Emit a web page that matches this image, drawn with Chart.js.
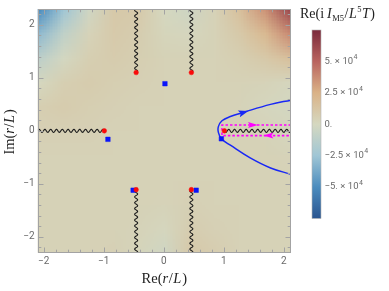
<!DOCTYPE html>
<html><head><meta charset="utf-8">
<script src="https://cdn.jsdelivr.net/npm/chart.js@4.4.1/dist/chart.umd.min.js"></script>
<style>html,body{margin:0;padding:0;background:#fff;}#wrap{width:389px;height:291px;position:relative;}</style>
</head><body><div id="wrap"><canvas id="c" width="389" height="291"></canvas></div>
<script>
// ---------- data ----------
const xRange = [-2.1, 2.12];
const yRange = [-2.3, 2.3];
const xTicks = [-2, -1, 0, 1, 2];
const yTicks = [-2, -1, 0, 1, 2];
const minorStep = 0.2;

// background density (values in units of 1e3)
const heatUnit = 1000;
const heatX = [-2.1, -1.68, -1.26, -0.84, -0.42, 0, 0.42, 0.84, 1.26, 1.68, 2.1];
const heatY = [2.3, 1.84, 1.38, 0.92, 0.46, 0, -0.46, -0.92, -1.38, -1.84, -2.3];
const heatValues = [
  [-50, -25, -3, 10, 9, 0, -4, 4, 16, 35, 62],
  [-30, -10, 3, 9, 7, 2, 1, 4, 10, 20, 38],
  [-12, -1, 6, 8, 6, 4, 4, 4, 6, 10, 16],
  [0, 6, 8, 6, 5, 4, 4, 4, 4, 3, 1],
  [6, 8, 6, 5, 4, 4, 4, 4, 3, 1, -1],
  [5, 5, 5, 4, 4, 4, 4, 4, 4, 3, 1],
  [4, 4, 4, 4, 4, 4, 4, 4, 4, 4, 3],
  [4, 4, 4, 4, 4, 4, 4, 4, 4, 4, 4],
  [4, 4, 4, 4, 4, 3, 5, 4, 4, 4, 4],
  [4, 4, 4, 4, 3, 1, 7, 5, 4, 4, 4],
  [4, 4, 4, 5, 2, -3, 10, 7, 4, 4, 4]
];

// branch points (red) and their cuts
const branchX = [-0.46, 0.46, -0.46, 0.46, -0.99, 1.01];
const branchY = [1.10, 1.10, -1.11, -1.11, 0.0, 0.0];
const cutEndX = [-0.46, 0.46, -0.46, 0.46, -2.1, 2.12];
const cutEndY = [2.3, 2.3, -2.3, -2.3, 0.0, 0.0];

// poles (blue squares)
const poleX = [0.02, -0.93, 0.96, -0.51, 0.54];
const poleY = [0.89, -0.16, -0.15, -1.12, -1.12];

// blue integration curve
const curveX = [2.12, 1.78, 1.44, 1.11, 0.96, 0.91, 0.91, 0.97, 1.11, 1.33, 1.78, 2.12];
const curveY = [-0.82, -0.70, -0.51, -0.27, -0.15, -0.03, 0.08, 0.19, 0.27, 0.35, 0.50, 0.58];
const curveArrowX = [1.41];
const curveArrowY = [0.375];

// magenta keyhole contour
const contourX = [2.12, 0.97, 0.97, 2.12];
const contourY = [0.11, 0.11, -0.09, -0.09];
const contourArrowX = [1.57, 1.66];
const contourArrowY = [0.11, -0.09];
const contourArrowDir = [1, -1];

// colour bar
const cbRange = [-75000, 75000];
const cbTicks = [50000, 25000, 0, -25000, -50000];
const cbMant = ['5.', '2.5', '0.', '\u22122.5', '\u22125.'];
const cbExp = ['4', '4', '', '4', '4'];

// ---------- styling helpers ----------
const cmapStops = [
  [0, [42, 85, 144]], [1/6, [75, 140, 190]], [1/3, [160, 198, 213]],
  [0.5, [213, 216, 192]], [2/3, [218, 178, 135]], [5/6, [185, 100, 95]], [1, [122, 42, 60]]
];
function cmap(v) {
  let f = (v - cbRange[0]) / (cbRange[1] - cbRange[0]);
  f = Math.max(0, Math.min(1, f));
  for (let i = 1; i < cmapStops.length; i++) {
    if (f <= cmapStops[i][0]) {
      const [f0, c0] = cmapStops[i - 1], [f1, c1] = cmapStops[i];
      const t = (f - f0) / (f1 - f0);
      return c0.map((c, k) => Math.round(c + (c1[k] - c) * t));
    }
  }
  return cmapStops[cmapStops.length - 1][1];
}
const minus = v => (v < 0 ? '\u2212' + Math.abs(v) : String(v));

function wavy(ctx, x0, y0, x1, y1) {
  const dx = x1 - x0, dy = y1 - y0, L = Math.hypot(dx, dy);
  const ux = dx / L, uy = dy / L, nx = -uy, ny = ux;
  ctx.beginPath();
  for (let s = 0; s <= L; s += 0.4) {
    const a = 1.5 * Math.sin(2 * Math.PI * s / 5.8);
    const px = x0 + ux * s + nx * a, py = y0 + uy * s + ny * a;
    if (s === 0) ctx.moveTo(px, py); else ctx.lineTo(px, py);
  }
  ctx.stroke();
}
function arrowHead(ctx, x, y, ang, len, wid, color) {
  ctx.save(); ctx.translate(x, y); ctx.rotate(ang);
  ctx.beginPath(); ctx.moveTo(0, 0); ctx.lineTo(-len, -wid / 2); ctx.lineTo(-len * 0.8, 0); ctx.lineTo(-len, wid / 2); ctx.closePath();
  ctx.fillStyle = color; ctx.fill(); ctx.restore();
}
function richWidth(ctx, parts) { let w = 0; for (const p of parts) { ctx.font = p.f; w += ctx.measureText(p.t).width + (p.sp || 0); } return w; }
function drawRich(ctx, parts, x, y) {
  for (const p of parts) { ctx.font = p.f; ctx.fillText(p.t, x, y + (p.dy || 0)); x += ctx.measureText(p.t).width + (p.sp || 0); }
}

const SERIF = '"Liberation Serif", "DejaVu Serif", serif';
const SANS = 'Roboto, "Liberation Sans", sans-serif';

const decoPlugin = {
  id: 'deco',
  beforeDatasetsDraw(chart) {
    const { ctx, chartArea: ca, scales: { x: xs, y: ys } } = chart;
    // density background
    const nx = heatX.length, ny = heatY.length;
    const off = document.createElement('canvas'); off.width = nx; off.height = ny;
    const octx = off.getContext('2d'); const img = octx.createImageData(nx, ny);
    for (let j = 0; j < ny; j++) for (let i = 0; i < nx; i++) {
      const c = cmap(heatValues[j][i] * heatUnit), k = (j * nx + i) * 4;
      img.data[k] = c[0]; img.data[k + 1] = c[1]; img.data[k + 2] = c[2]; img.data[k + 3] = 255;
    }
    octx.putImageData(img, 0, 0);
    const x0 = xs.getPixelForValue(heatX[0]), x1 = xs.getPixelForValue(heatX[nx - 1]);
    const y0 = ys.getPixelForValue(heatY[0]), y1 = ys.getPixelForValue(heatY[ny - 1]);
    const cw = (x1 - x0) / (nx - 1), chh = (y1 - y0) / (ny - 1);
    ctx.save();
    ctx.beginPath(); ctx.rect(ca.left, ca.top, ca.right - ca.left, ca.bottom - ca.top); ctx.clip();
    ctx.imageSmoothingEnabled = true;
    ctx.drawImage(off, x0 - cw / 2, y0 - chh / 2, cw * nx, chh * ny);
    // branch cuts
    ctx.strokeStyle = '#1c1c1c'; ctx.lineWidth = 1.1;
    for (let i = 0; i < branchX.length; i++) {
      wavy(ctx, xs.getPixelForValue(branchX[i]), ys.getPixelForValue(branchY[i]),
        xs.getPixelForValue(cutEndX[i]), ys.getPixelForValue(cutEndY[i]));
    }
    ctx.restore();
  },
  afterDatasetsDraw(chart) {
    const { ctx, chartArea: ca, scales: { x: xs, y: ys } } = chart;
    // arrows on blue curve
    for (let i = 0; i < curveArrowX.length; i++) {
      const tx = xs.getPixelForValue(curveArrowX[i]), ty = ys.getPixelForValue(curveArrowY[i]);
      const ax = xs.getPixelForValue(curveX[8]), ay = ys.getPixelForValue(curveY[8]);
      const bx = xs.getPixelForValue(curveX[10]), by = ys.getPixelForValue(curveY[10]);
      arrowHead(ctx, tx, ty, Math.atan2(by - ay, bx - ax), 10, 7, 'rgb(25,40,245)');
    }
    for (let i = 0; i < contourArrowX.length; i++) {
      const tx = xs.getPixelForValue(contourArrowX[i]), ty = ys.getPixelForValue(contourArrowY[i]);
      arrowHead(ctx, tx, ty, contourArrowDir[i] > 0 ? 0 : Math.PI, 10, 6, '#ff00ff');
    }
    // frame and ticks
    ctx.save();
    ctx.strokeStyle = '#a3a3a3'; ctx.lineWidth = 1;
    const L = Math.round(ca.left) + 0.5, R = Math.round(ca.right) - 0.5, T = Math.round(ca.top) + 0.5, B = Math.round(ca.bottom) - 0.5;
    ctx.strokeRect(L, T, R - L, B - T);
    ctx.beginPath();
    for (let k = Math.ceil(xRange[0] / minorStep); k <= Math.floor(xRange[1] / minorStep); k++) {
      const v = k * minorStep, major = Math.abs(v - Math.round(v)) < 1e-6;
      const p = Math.round(xs.getPixelForValue(v)) + 0.5, len = major ? 5 : 2.8;
      ctx.moveTo(p, B); ctx.lineTo(p, B - len); ctx.moveTo(p, T); ctx.lineTo(p, T + len);
    }
    for (let k = Math.ceil(yRange[0] / minorStep); k <= Math.floor(yRange[1] / minorStep); k++) {
      const v = k * minorStep, major = Math.abs(v - Math.round(v)) < 1e-6;
      const p = Math.round(ys.getPixelForValue(v)) + 0.5, len = major ? 5 : 2.8;
      ctx.moveTo(L, p); ctx.lineTo(L + len, p); ctx.moveTo(R, p); ctx.lineTo(R - len, p);
    }
    ctx.stroke();
    ctx.restore();

    // axis titles
    ctx.save();
    ctx.fillStyle = '#222'; ctx.textBaseline = 'alphabetic';
    const fs = 14.5;
    const N = fs + 'px ' + SERIF, I = 'italic ' + fs + 'px ' + SERIF;
    const xt = [{ t: 'Re(', f: N }, { t: 'r', f: I, sp: 0.5 }, { t: '/', f: N, sp: 0.5 }, { t: 'L', f: I, sp: 1 }, { t: ')', f: N }];
    const wx = richWidth(ctx, xt);
    drawRich(ctx, xt, (ca.left + ca.right) / 2 - wx / 2, 283);
    const yt = [{ t: 'Im(', f: N }, { t: 'r', f: I, sp: 0.5 }, { t: '/', f: N, sp: 0.5 }, { t: 'L', f: I, sp: 1 }, { t: ')', f: N }];
    const wy = richWidth(ctx, yt);
    ctx.translate(14, (ca.top + ca.bottom) / 2 + 1); ctx.rotate(-Math.PI / 2);
    drawRich(ctx, yt, -wy / 2, 0);
    ctx.restore();

    // colour bar
    const cbL = 312, cbR = 321, cbT = 30, cbB = 218.5;
    const g = ctx.createLinearGradient(0, cbB, 0, cbT);
    for (const [f, c] of cmapStops) g.addColorStop(f, 'rgb(' + c.join(',') + ')');
    ctx.fillStyle = g; ctx.fillRect(cbL, cbT, cbR - cbL, cbB - cbT);
    ctx.strokeStyle = '#b5b5b5'; ctx.lineWidth = 0.6; ctx.strokeRect(cbL, cbT, cbR - cbL, cbB - cbT);
    ctx.save();
    ctx.fillStyle = '#6a6a6a'; ctx.textBaseline = 'middle';
    const cbPix = v => cbB - (v - cbRange[0]) / (cbRange[1] - cbRange[0]) * (cbB - cbT);
    for (let i = 0; i < cbTicks.length; i++) {
      const y = cbPix(cbTicks[i]);
      const parts = [{ t: cbMant[i], f: '9.5px ' + SANS, sp: cbExp[i] ? 2.5 : 0 }];
      if (cbExp[i]) {
        parts.push({ t: '\u00d7', f: '9.5px ' + SANS, sp: 2.5 });
        parts.push({ t: '10', f: '9.5px ' + SANS, sp: 0.5 });
        parts.push({ t: cbExp[i], f: '7px ' + SANS, dy: -4 });
      }
      drawRich(ctx, parts, 324.5, y);
    }
    ctx.restore();
    // colour bar title
    ctx.save();
    ctx.fillStyle = '#222'; ctx.textBaseline = 'alphabetic';
    const tf = 14, Nn = tf + 'px ' + SERIF, Ii = 'italic ' + tf + 'px ' + SERIF, Ss = '8.5px ' + SERIF;
    const ct = [{ t: 'Re(i', f: Nn, sp: 3 }, { t: 'I', f: Ii, sp: 0.5 }, { t: 'M5', f: Ss, dy: 3, sp: 0.5 },
      { t: '/', f: Nn, sp: 0.5 }, { t: 'L', f: Ii, sp: 0.5 }, { t: '5', f: Ss, dy: -6, sp: 0.5 }, { t: 'T', f: Ii, sp: 0.5 }, { t: ')', f: Nn }];
    drawRich(ctx, ct, 300, 18);
    ctx.restore();
  }
};

const data = {
  datasets: [
    {
      label: 'contour', data: contourX.map((x, i) => ({ x, y: contourY[i] })),
      showLine: true, borderColor: '#ff00ff', borderWidth: 1.6, borderDash: [2.5, 2],
      pointRadius: 0, tension: 0, order: 3
    },
    {
      label: 'curve', data: curveX.map((x, i) => ({ x, y: curveY[i] })),
      showLine: true, borderColor: 'rgb(25,40,245)', borderWidth: 1.5,
      pointRadius: 0, tension: 0.4, order: 2
    },
    {
      label: 'poles', data: poleX.map((x, i) => ({ x, y: poleY[i] })),
      pointStyle: 'rect', pointRadius: 3.2, backgroundColor: 'rgb(10,20,250)', borderColor: 'rgb(10,20,250)', borderWidth: 0.5, order: 1
    },
    {
      label: 'branch points', data: branchX.map((x, i) => ({ x, y: branchY[i] })),
      pointStyle: 'circle', pointRadius: 2.3, backgroundColor: 'rgb(250,10,10)', borderColor: 'rgb(250,10,10)', borderWidth: 0.5, order: 0
    }
  ]
};

new Chart(document.getElementById('c'), {
  type: 'scatter',
  data,
  plugins: [decoPlugin],
  options: {
    responsive: false, animation: false, events: [],
    layout: { padding: { left: 0, right: 98, top: 0.5, bottom: 0 } },
    plugins: { legend: { display: false }, tooltip: { enabled: false } },
    scales: {
      x: {
        type: 'linear', min: xRange[0], max: xRange[1],
        grid: { display: false, drawTicks: false }, border: { display: false },
        afterFit: s => { s.height = 38.3; },
        afterBuildTicks: s => { s.ticks = xTicks.map(v => ({ value: v })); },
        ticks: { includeBounds: false, padding: 3, color: '#6a6a6a', font: { family: 'Roboto', size: 10 }, callback: v => minus(v), maxRotation: 0 }
      },
      y: {
        type: 'linear', min: yRange[0], max: yRange[1],
        grid: { display: false, drawTicks: false }, border: { display: false },
        afterFit: s => { s.width = 37.7; },
        afterBuildTicks: s => { s.ticks = yTicks.map(v => ({ value: v })); },
        ticks: { includeBounds: false, padding: 3, color: '#6a6a6a', font: { family: 'Roboto', size: 10 }, callback: v => minus(v) }
      }
    }
  }
});
</script></body></html>
